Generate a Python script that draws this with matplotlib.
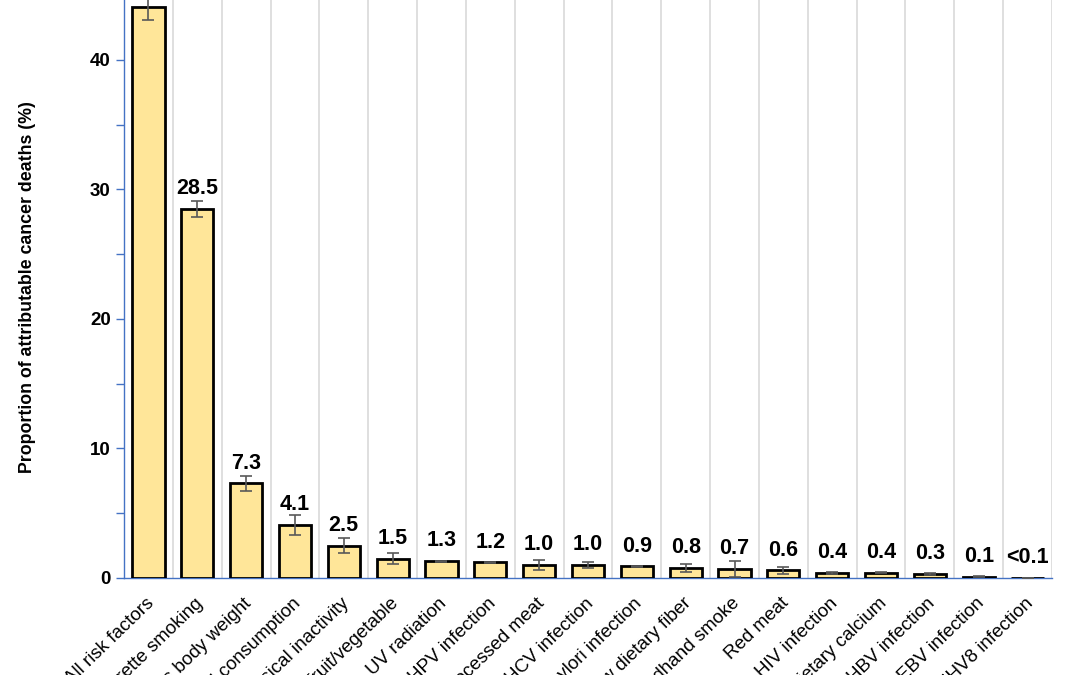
import numpy as np
import matplotlib.pyplot as plt
import matplotlib.transforms as mtransforms
from matplotlib.ticker import MultipleLocator

# ---- data ----
factors = ["All risk factors", "Cigarette smoking", "Excess body weight",
           "Alcohol consumption", "Physical inactivity", "Low fruit/vegetable",
           "UV radiation", "HPV infection", "Processed meat", "HCV infection",
           "H. pylori infection", "Low dietary fiber", "Secondhand smoke",
           "Red meat", "HIV infection", "Low dietary calcium", "HBV infection",
           "EBV infection", "HHV8 infection"]
values = [44.1, 28.5, 7.3, 4.1, 2.5, 1.5, 1.3, 1.2, 1.0, 1.0,
          0.9, 0.8, 0.7, 0.6, 0.4, 0.4, 0.3, 0.1, 0.03]
errors = [1.0, 0.6, 0.6, 0.8, 0.6, 0.45, 0.03, 0.03, 0.4, 0.25,
          0.05, 0.3, 0.6, 0.28, 0.1, 0.03, 0.1, 0.02, 0.0]
value_labels = ["44.1", "28.5", "7.3", "4.1", "2.5", "1.5", "1.3", "1.2", "1.0", "1.0",
                "0.9", "0.8", "0.7", "0.6", "0.4", "0.4", "0.3", "0.1", "<0.1"]

plt.rcParams['font.family'] = ['Liberation Sans', 'DejaVu Sans']
blue = '#4472C4'

fig = plt.figure(figsize=(10.8, 6.75), dpi=100)
# axes runs past the top of the figure, like the cropped original
ax = fig.add_axes([124/1080, 97/675, 928/1080, 596/675])

x = np.arange(len(factors))
ax.bar(x, values, width=0.66, color='#FFE699', edgecolor='black', linewidth=2,
       yerr=errors, error_kw=dict(ecolor='#595959', elinewidth=1.2, capsize=4, capthick=1.2),
       zorder=3)

for xi, v, lab in zip(x, values, value_labels):
    ax.annotate(lab, (xi, v), xytext=(0, 7), textcoords='offset points',
                ha='center', va='bottom', fontsize=15.5, fontweight='bold')

ax.set_xlim(-0.5, len(factors) - 0.5)
ax.set_ylim(0, 46)

# vertical separators between categories
for b in np.arange(0.5, len(factors), 1.0):
    ax.axvline(b, color='#D9D9D9', linewidth=1.2, zorder=0)

ax.yaxis.set_major_locator(MultipleLocator(10))
ax.yaxis.set_minor_locator(MultipleLocator(5))
ax.tick_params(axis='y', which='both', direction='out', length=6, color=blue,
               labelsize=13.5, width=1)
for t in ax.get_yticklabels():
    t.set_fontweight('bold')

ax.set_xticks(x)
ax.set_xticklabels(factors, rotation=44, ha='right', rotation_mode='anchor', fontsize=13.5)
ax.tick_params(axis='x', length=0, pad=12)
shift = mtransforms.ScaledTranslation(-3/100, 0, fig.dpi_scale_trans)
for t in ax.get_xticklabels():
    t.set_transform(t.get_transform() + shift)

for s in ['top', 'right']:
    ax.spines[s].set_visible(False)
ax.spines['left'].set_color(blue)
ax.spines['bottom'].set_color(blue)
ax.spines['left'].set_linewidth(1)
ax.spines['bottom'].set_linewidth(1)

ax.set_ylabel('Proportion of attributable cancer deaths (%)', fontsize=12.8,
              fontweight='bold')
ax.yaxis.set_label_coords(-0.095, 0.488)

fig.savefig('out.png', dpi=100)
